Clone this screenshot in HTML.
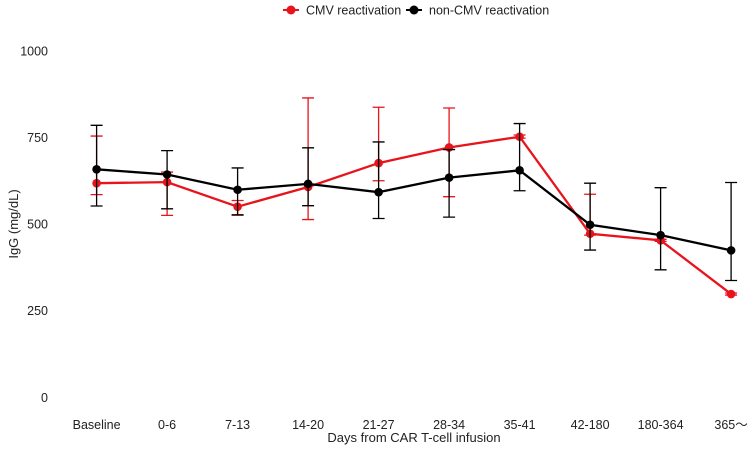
<!DOCTYPE html>
<html><head><meta charset="utf-8"><style>
body{margin:0;background:#fff;}
svg{display:block;font-family:"Liberation Sans",sans-serif;}
</style></head><body>
<svg id="chart" width="749" height="451" viewBox="0 0 749 451" xmlns="http://www.w3.org/2000/svg">
<g>
  <line x1="283" y1="10" x2="299" y2="10" stroke="#e8141b" stroke-width="2"/>
  <circle cx="291" cy="10" r="4.5" fill="#e8141b"/>
  <text x="306" y="14.5" font-size="12.5" fill="#222">CMV reactivation</text>
  <line x1="406" y1="10" x2="422" y2="10" stroke="#000" stroke-width="2"/>
  <circle cx="414" cy="10" r="4.5" fill="#000"/>
  <text x="429" y="14.5" font-size="12.5" fill="#222">non-CMV reactivation</text>
</g>
<g id="yaxis"></g>
<g id="xaxis"></g>
<text transform="translate(18,224) rotate(-90)" text-anchor="middle" font-size="13" fill="#222">IgG (mg/dL)</text>
<text x="414" y="442" text-anchor="middle" font-size="13" fill="#222">Days from CAR T-cell infusion</text>
<g id="series"></g>
</svg>
<script>
const categories=["Baseline","0-6","7-13","14-20","21-27","28-34","35-41","42-180","180-364","365～"];
const yTicks=[0,250,500,750,1000];
const cmvMean=[618,621,550,607,676,721,752,472,453,298];
const cmvHigh=[754,650,568,864,837,835,757,586,456,301];
const cmvLow=[585,525,527,513,625,579,748,468,450,295];
const nonMean=[658,643,599,616,592,634,655,498,468,424];
const nonHigh=[785,712,662,720,737,715,790,618,605,620];
const nonLow=[552,544,526,553,516,520,596,425,368,337];

const NS="http://www.w3.org/2000/svg";
const svg=document.getElementById('chart');
function xs(i){return 96.6+i*70.5;}
function ys(v){return 397.3-v*0.3465;}
function mk(tag,attrs,parent){const e=document.createElementNS(NS,tag);for(const k in attrs)e.setAttribute(k,attrs[k]);parent.appendChild(e);return e;}
const ya=document.getElementById('yaxis');
yTicks.forEach(t=>{
  const e=mk('text',{x:48,y:ys(t)+4.5,'text-anchor':'end','font-size':'12.5',fill:'#222'},ya);
  
  
  e.textContent=t;
});
const xa=document.getElementById('xaxis');
categories.forEach((c,i)=>{
  const e=mk('text',{x:xs(i),y:429,'text-anchor':'middle','font-size':'12.5',fill:'#222'},xa);
  
  
  e.textContent=c;
});
const sg=document.getElementById('series');
function drawSeries(mean,hi,lo,color,name){
  const g=mk('g',{},sg);
  
  
  mean.forEach((v,i)=>{
    const x=xs(i);
    const eb=mk('path',{d:`M${x-6},${ys(hi[i])}H${x+6}M${x},${ys(hi[i])}V${ys(lo[i])}M${x-6},${ys(lo[i])}H${x+6}`,stroke:color,'stroke-width':1.3,fill:'none'},g);
    
    
  });
  const pl=mk('polyline',{points:mean.map((v,i)=>xs(i)+','+ys(v)).join(' '),stroke:color,'stroke-width':2.3,fill:'none'},g);
  
  
  mean.forEach((v,i)=>{
    const c=mk('circle',{cx:xs(i),cy:ys(v),r:4.3,fill:color},g);
    
    
  });
}
drawSeries(cmvMean,cmvHigh,cmvLow,'#e8141b','cmv');
drawSeries(nonMean,nonHigh,nonLow,'#000','non-cmv');
</script>
</body></html>
